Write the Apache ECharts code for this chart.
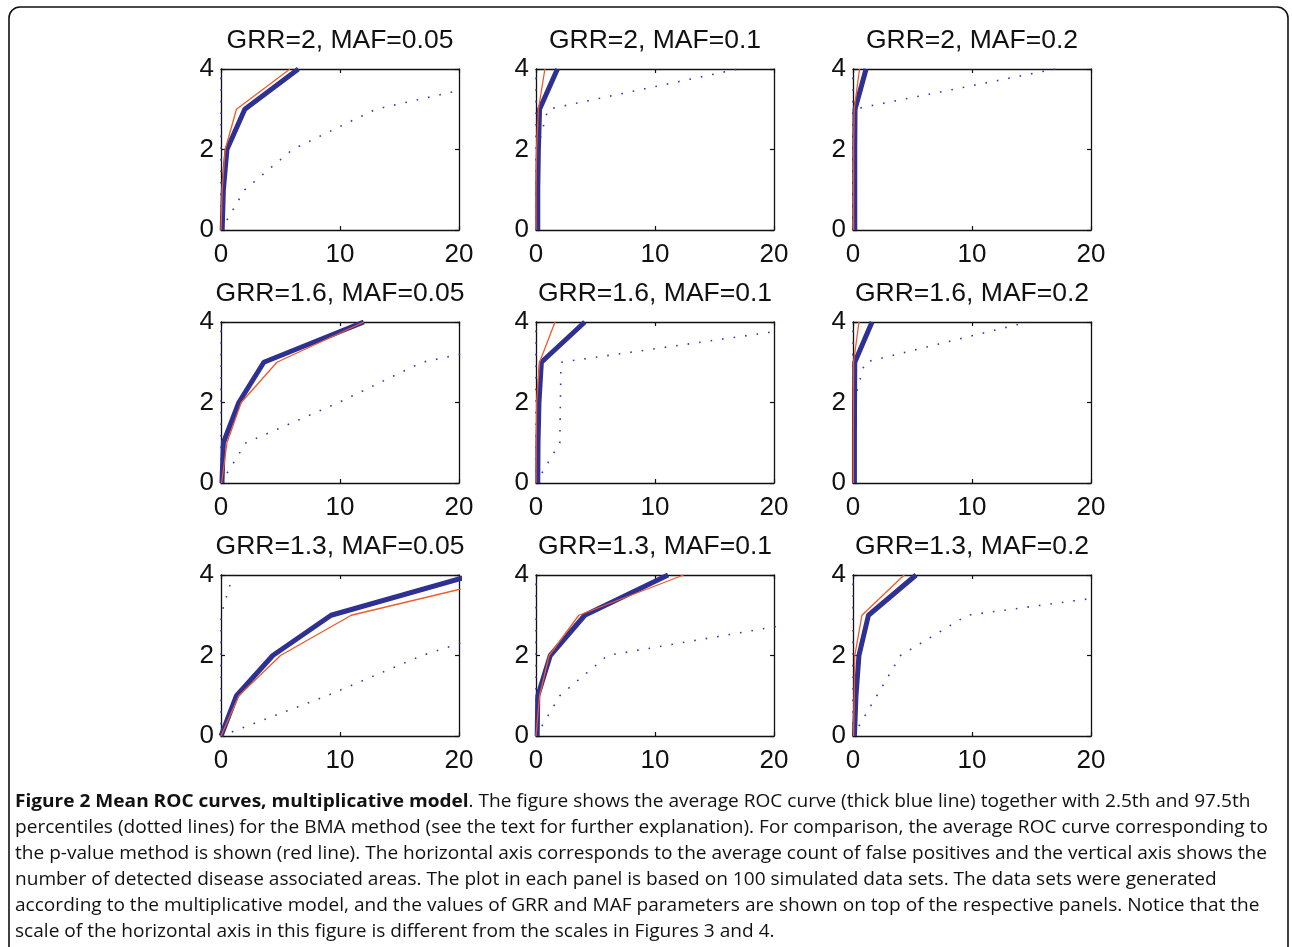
<!DOCTYPE html>
<html>
<head>
<meta charset="utf-8">
<script src="https://cdn.jsdelivr.net/npm/echarts@6/dist/echarts.min.js"></script>
<style>
  html, body { margin: 0; padding: 0; background: #fff; }
  #chart { width: 1292px; height: 947px; }
</style>
</head>
<body>
<div id="chart"></div>
<script>
// panel titles, row by row
const panelTitles = [
    'GRR=2, MAF=0.05', 'GRR=2, MAF=0.1', 'GRR=2, MAF=0.2',
    'GRR=1.6, MAF=0.05', 'GRR=1.6, MAF=0.1', 'GRR=1.6, MAF=0.2',
    'GRR=1.3, MAF=0.05', 'GRR=1.3, MAF=0.1', 'GRR=1.3, MAF=0.2'
];

// number of detected areas (vertical axis)
const detected = [0, 1, 2, 3, 4];

// average false positives reached at each detected count, one list per panel
// thick blue: mean ROC of BMA
const bmaMean = [
    [0.1, 0.2, 0.5, 2.0, 6.5],
    [0.15, 0.15, 0.2, 0.3, 1.8],
    [0.15, 0.15, 0.15, 0.17, 1.1],
    [0.08, 0.2, 1.5, 3.6, 12.0],
    [0.15, 0.17, 0.25, 0.45, 4.1],
    [0.12, 0.12, 0.13, 0.15, 1.6],
    [0, 1.3, 4.35, 9.25, 21.2],
    [0.1, 0.15, 1.2, 4.1, 11.1],
    [0.12, 0.25, 0.5, 1.3, 5.3]
];

// red: mean ROC of the p-value method
const pValueMean = [
    [0, 0.1, 0.35, 1.3, 5.8],
    [0, 0, 0.05, 0.2, 0.75],
    [0.05, 0.05, 0.05, 0.1, 0.55],
    [0.05, 0.5, 1.7, 4.7, 12.0],
    [0, 0.02, 0.05, 0.3, 1.6],
    [0.03, 0.03, 0.04, 0.05, 0.5],
    [0, 1.5, 5.0, 10.95, 25.1],
    [0, 0.3, 1.1, 3.6, 12.4],
    [0.05, 0.1, 0.15, 0.75, 4.3]
];

// dotted percentile curves (null = beyond the plotted range)
const bmaUpper = [
    [0, 0, 0, 0, 0],
    [0, 0, 0, 0, 0],
    [0, 0, 0, 0, 0],
    [0, 0, 0, 0, 0],
    [0, 0, 0, 0, 0],
    [0, 0, 0, 0, 0],
    [0, 0, 0, 0, 1.0],
    [0, 0, 0, 0, 0],
    [0, 0, 0, 0, 0]
];
const bmaLower = [
    [0, 2, 6, 13, 28],
    [0, 0.05, 0.1, 1.0, 17],
    [0, 0, 0.02, 0.05, 17],
    [0, 2.1, 9.9, 16.9, 33],
    [0, 2.0, 2.05, 2.1, 25.7],
    [0, 0.02, 0.05, 1.0, 14.7],
    [0, 8.9, 16.9, 27.5, null],
    [0, 2.0, 6.0, 25.7, null],
    [0, 2, 4, 9.6, 34.6]
];

const xTicks = [0, 20, 10];
const yTicks = [0, 4, 2];

const captionBold = 'Figure 2 Mean ROC curves, multiplicative model';
const captionLines = [
    '. The figure shows the average ROC curve (thick blue line) together with 2.5th and 97.5th',
    'percentiles (dotted lines) for the BMA method (see the text for further explanation). For comparison, the average ROC curve corresponding to',
    'the p-value method is shown (red line). The horizontal axis corresponds to the average count of false positives and the vertical axis shows the',
    'number of detected disease associated areas. The plot in each panel is based on 100 simulated data sets. The data sets were generated',
    'according to the multiplicative model, and the values of GRR and MAF parameters are shown on top of the respective panels. Notice that the',
    'scale of the horizontal axis in this figure is different from the scales in Figures 3 and 4.'
];

const myChart = echarts.init(document.getElementById('chart'));

const colLeft = [221, 536, 853];
const rowTop = [69, 322, 575];
const plotW = 238, plotH = 161;
const axisFont = 'Liberation Sans';
const BLUE = '#2e3192';
const RED = '#f05a28';
const DOT = '#3535c0';
const capSize = 17.5;

// 把x值和检测数配成点
function toPoints(xs) {
    return xs.map((x, i) => [x, detected[i]]).filter(p => p[0] !== null);
}

const grids = [], xAxes = [], yAxes = [], series = [], titles = [];

const tickStyle = { show: true, inside: true, length: 4, lineStyle: { color: '#111', width: 1.2 } };
const lineStyle = { show: true, onZero: false, lineStyle: { color: '#111', width: 1.3 } };

panelTitles.forEach((name, i) => {
    const r = Math.floor(i / 3), c = i % 3;
    const left = colLeft[c], top = rowTop[r];
    grids.push({ left: left, top: top, width: plotW, height: plotH, containLabel: false });

    titles.push({
        text: name,
        left: left + plotW / 2,
        top: top - 42,
        textAlign: 'center',
        padding: 0,
        textStyle: { fontFamily: axisFont, fontSize: 26.5, fontWeight: 'normal', color: '#111' }
    });

    const xBase = {
        type: 'value', gridIndex: i, min: xTicks[0], max: xTicks[1], interval: xTicks[2],
        axisLine: lineStyle, axisTick: tickStyle, splitLine: { show: false }
    };
    xAxes.push(Object.assign({}, xBase, {
        position: 'bottom',
        axisLabel: { fontFamily: axisFont, fontSize: 26, color: '#111', margin: 12 }
    }));
    xAxes.push(Object.assign({}, xBase, { position: 'top', axisLabel: { show: false } }));

    const yBase = {
        type: 'value', gridIndex: i, min: yTicks[0], max: yTicks[1], interval: yTicks[2],
        axisLine: lineStyle, axisTick: tickStyle, splitLine: { show: false }
    };
    yAxes.push(Object.assign({}, yBase, {
        position: 'left',
        axisLabel: { fontFamily: axisFont, fontSize: 26, color: '#111', margin: 7 }
    }));
    yAxes.push(Object.assign({}, yBase, { position: 'right', axisLabel: { show: false } }));

    const common = {
        type: 'line', xAxisIndex: 2 * i, yAxisIndex: 2 * i,
        showSymbol: false, symbol: 'none', silent: true, clip: true, animation: false
    };
    series.push(Object.assign({}, common, {
        data: toPoints(bmaUpper[i]),
        lineStyle: { color: DOT, width: 1.6, type: [1.6, 10] }
    }));
    series.push(Object.assign({}, common, {
        data: toPoints(bmaLower[i]),
        lineStyle: { color: DOT, width: 1.6, type: [1.6, 10] }
    }));
    series.push(Object.assign({}, common, {
        data: toPoints(bmaMean[i]),
        lineStyle: { color: BLUE, width: 5 }
    }));
    series.push(Object.assign({}, common, {
        data: toPoints(pValueMean[i]),
        lineStyle: { color: RED, width: 1.3 }
    }));
});

const captionText = '{b|' + captionBold + '}' + captionLines.map(s => '{n|' + s + '}').join('\n');

const option = {
    backgroundColor: '#fff',
    animation: false,
    title: titles,
    grid: grids,
    xAxis: xAxes,
    yAxis: yAxes,
    series: series,
    graphic: [
        {
            type: 'rect',
            shape: { x: 9, y: 7, width: 1279, height: 1000, r: 11 },
            style: { fill: 'none', stroke: '#111', lineWidth: 1.6 },
            silent: true
        },
        {
            type: 'text',
            left: 15,
            top: 789,
            scaleX: 1.09,
            style: {
                text: captionText,
                fontFamily: 'Open Sans',
                fontSize: capSize,
                lineHeight: 26,
                fill: '#111',
                rich: {
                    b: { fontFamily: 'Open Sans', fontWeight: 'bold', fontSize: capSize, lineHeight: 26, fill: '#111' },
                    n: { fontFamily: 'Open Sans', fontSize: capSize, lineHeight: 26, fill: '#111' }
                }
            },
            silent: true
        }
    ]
};

myChart.setOption(option);

window.addEventListener('resize', function () {
    myChart.resize();
});
</script>
</body>
</html>
